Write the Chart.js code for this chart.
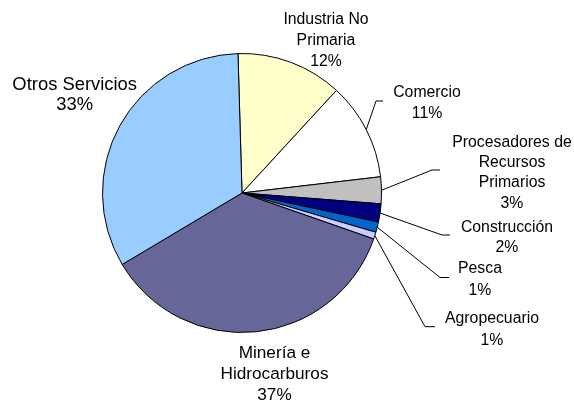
<!DOCTYPE html>
<html>
<head>
<meta charset="utf-8">
<script src="https://cdn.jsdelivr.net/npm/chart.js@4/dist/chart.umd.min.js"></script>
<style>
  html, body { margin: 0; padding: 0; background: #fff; }
  #wrap { width: 574px; height: 402px; }
</style>
</head>
<body>
<div id="wrap"><canvas id="pieChart" width="574" height="402"></canvas></div>
<script>
// === Data ===
const categories = [
  ['Industria No', 'Primaria'],
  ['Comercio'],
  ['Procesadores de', 'Recursos', 'Primarios'],
  ['Construcción'],
  ['Pesca'],
  ['Agropecuario'],
  ['Minería e', 'Hidrocarburos'],
  ['Otros Servicios']
];
const shares = [12.3, 11.3, 3.1, 2.1, 1.2, 0.8, 36.1, 33.1];
const percentLabels = ['12%', '11%', '3%', '2%', '1%', '1%', '37%', '33%'];

const sliceColors = ['#FFFFCC', '#FFFFFF', '#C0C0C0', '#000080', '#0066CC', '#CCCCFF', '#666699', '#99CCFF'];

// label placement: centre x, first baseline, line height, font size, optional leader elbow
const labelStyle = [
  { x: 326, y: 24, lh: 20.8, size: 15.8 },
  { x: 427, y: 96.5, lh: 21, size: 15.8, elbow: [376, 101], end: 383 },
  { x: 512, y: 146.7, lh: 20.3, size: 15.8, elbow: [432, 170], end: 440 },
  { x: 507, y: 231.7, lh: 20, size: 15.8, elbow: [442, 235], end: 450 },
  { x: 480, y: 273.3, lh: 21.7, size: 15.8, elbow: [440, 277.5], end: 449 },
  { x: 492, y: 323.3, lh: 21.7, size: 15.8, elbow: [425, 326.7], end: 435 },
  { x: 274.5, y: 358.3, lh: 20.9, size: 17.2 },
  { x: 74.7, y: 90, lh: 20, size: 18.4 }
];

// === Labels + leader lines ===
const sliceLabels = {
  id: 'sliceLabels',
  afterDraw(chart) {
    const ctx = chart.ctx;
    const arcs = chart.getDatasetMeta(0).data;
    ctx.save();
    arcs.forEach((arc, i) => {
      const st = labelStyle[i];
      if (st.elbow) {
        const mid = (arc.startAngle + arc.endAngle) / 2;
        const sx = arc.x + Math.cos(mid) * arc.outerRadius;
        const sy = arc.y + Math.sin(mid) * arc.outerRadius;
        ctx.beginPath();
        ctx.strokeStyle = '#000';
        ctx.lineWidth = 1;
        ctx.moveTo(sx, sy);
        ctx.lineTo(st.elbow[0], st.elbow[1]);
        ctx.lineTo(st.end, st.elbow[1]);
        ctx.stroke();
      }
      const lines = categories[i].concat([percentLabels[i]]);
      ctx.fillStyle = '#000';
      ctx.font = st.size + 'px "Liberation Sans", Arial, sans-serif';
      ctx.textAlign = 'center';
      ctx.textBaseline = 'alphabetic';
      lines.forEach((t, k) => ctx.fillText(t, st.x, st.y + k * st.lh));
    });
    ctx.restore();
  }
};

new Chart(document.getElementById('pieChart').getContext('2d'), {
  type: 'pie',
  data: {
    labels: categories.map(c => c.join(' ')),
    datasets: [{
      data: shares,
      backgroundColor: sliceColors,
      borderColor: '#000',
      borderWidth: 1,
      borderAlign: 'center'
    }]
  },
  options: {
    responsive: false,
    animation: false,
    rotation: -1.65,
    layout: { padding: { left: 102, right: 192, top: 53, bottom: 69 } },
    plugins: {
      legend: { display: false },
      tooltip: { enabled: false }
    }
  },
  plugins: [sliceLabels]
});
</script>
</body>
</html>
